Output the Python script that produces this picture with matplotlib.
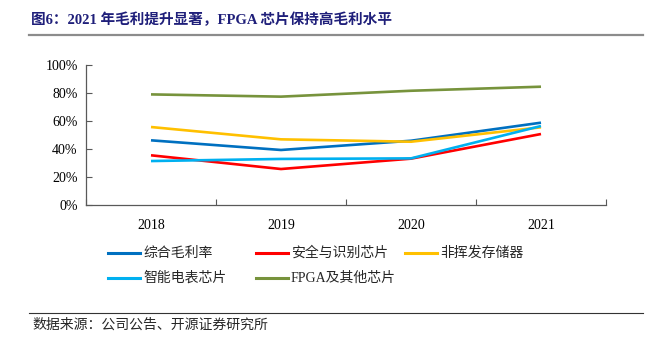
import matplotlib
matplotlib.use("Agg")
import matplotlib.pyplot as plt
from matplotlib.lines import Line2D

years = ["2018", "2019", "2020", "2021"]
series_names = ["综合毛利率", "安全与识别芯片", "非挥发存储器", "智能电表芯片", "FPGA及其他芯片"]
overall = [46.2, 39.3, 45.9, 58.8]
security = [35.5, 25.7, 33.1, 50.7]
nvm = [55.7, 46.9, 45.2, 55.5]
meter = [31.4, 32.9, 33.3, 56.4]
fpga = [79.0, 77.4, 81.6, 84.5]
colors = ["#0070C0", "#FF0000", "#FFC000", "#00B0F0", "#77933C"]
yticks = [0, 20, 40, 60, 80, 100]

W, H = 651, 337
fig = plt.figure(figsize=(W / 100, H / 100), dpi=100)
serif = ["Liberation Serif", "Noto Sans CJK SC"]
cjk = ["Noto Sans CJK SC", "Liberation Serif"]

def fx(px):
    return px / W

def fy(py):
    return 1 - py / H

ax = fig.add_axes([fx(86), fy(205), fx(606) - fx(86), fy(65) - fy(205)])
data = [overall, security, nvm, meter, fpga]
x = list(range(len(years)))
# draw order: so that the earlier in legend is underneath like Excel
for vals, c, n in zip(data, colors, series_names):
    ax.plot(x, vals, color=c, lw=1.9, label=n, solid_capstyle="butt")

ax.set_xlim(-0.5, len(years) - 0.5)
ax.set_ylim(0, 100)
ax.set_yticks(yticks)
ax.set_yticklabels([f"{v}%" for v in yticks], fontfamily=serif, fontsize=10)
ax.set_xticks(x)
ax.set_xticklabels(years, fontfamily=serif, fontsize=10)
ax.set_xticks([i - 0.5 for i in range(len(years) + 1)], minor=True)
ax.tick_params(axis="x", which="major", length=0, pad=10)
ax.tick_params(axis="x", which="minor", length=4, direction="in", color="#595959", width=0.8)
ax.tick_params(axis="y", length=4, direction="in", color="#595959", width=0.8, pad=6)
for s in ["top", "right"]:
    ax.spines[s].set_visible(False)
for s in ["left", "bottom"]:
    ax.spines[s].set_color("#595959")
    ax.spines[s].set_linewidth(0.9)

# Title
fig.text(fx(31), fy(20), "图6：2021 年毛利提升显著，FPGA 芯片保持高毛利水平",
         fontfamily=serif, fontsize=10.5, fontweight="bold", color="#1F1F7A",
         ha="left", va="center")
fig.add_artist(Line2D([fx(29), fx(643)], [fy(35), fy(35)], color="#8C8C8C", lw=1.6))

# Legend (manual, Excel style)
col_x = [108, 256, 405]
row_y = [253, 278]
for i, (n, c) in enumerate(zip(series_names, colors)):
    r, cidx = divmod(i, 3)
    x0 = col_x[cidx]
    y0 = row_y[r]
    fig.add_artist(Line2D([fx(x0), fx(x0 + 32)], [fy(y0), fy(y0)], color=c, lw=2.2))
    fig.text(fx(x0 + 35), fy(y0), n, fontfamily=serif, fontsize=10,
             ha="left", va="center", color="#262626")

# Source
fig.add_artist(Line2D([fx(29), fx(643)], [fy(313), fy(313)], color="#333333", lw=0.8))
fig.text(fx(32), fy(325), "数据来源：公司公告、开源证券研究所", fontfamily=cjk,
         fontsize=10, ha="left", va="center", color="#262626")

fig.savefig("out.png", dpi=100)
